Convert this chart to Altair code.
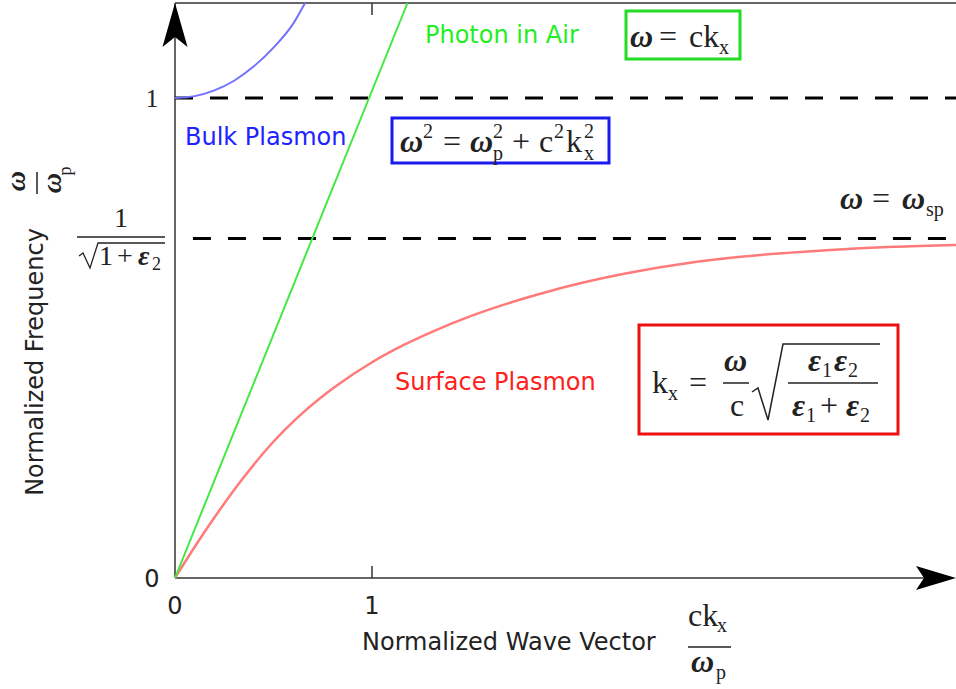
import altair as alt
import pandas as pd

# ---------------- data ----------------
photon_k = [0.0, 1.18]
photon_w = [0.0, 1.198]

bulk_k = [0.0, 0.1, 0.2, 0.3, 0.4, 0.5, 0.6, 0.66]
bulk_w = [1.0, 1.004, 1.016, 1.036, 1.066, 1.105, 1.155, 1.198]

surface_k = [0.0, 0.08, 0.16, 0.338, 0.482, 0.651, 0.821, 0.99, 1.159, 1.328, 1.497,
             1.666, 1.836, 2.005, 2.293, 2.631, 2.97, 3.308, 3.646, 3.964]
surface_w = [0.0, 0.052, 0.102, 0.204, 0.276, 0.345, 0.401, 0.447, 0.485, 0.517, 0.545,
             0.569, 0.590, 0.609, 0.635, 0.658, 0.673, 0.683, 0.690, 0.694]

bulk_level = 1.0
sp_level = 0.7071
x_max = 3.964
y_max = 1.198

# ---------------- layout ----------------
LEFT, TOP = 175, 3
W, H = 781, 575
XS = alt.Scale(domain=[0, x_max], nice=False, zero=False)
YS = alt.Scale(domain=[0, y_max], nice=False, zero=False)

SANS = "DejaVu Sans"
SERIF = "Liberation Serif"
MATH = 32
SUBS = 20


def curve(ks, ws, color, width):
    df = pd.DataFrame({"k": ks, "w": ws, "i": range(len(ks))})
    return alt.Chart(df).mark_line(color=color, strokeWidth=width, interpolate="monotone").encode(
        x=alt.X("k:Q", scale=XS, axis=None),
        y=alt.Y("w:Q", scale=YS, axis=None),
        order="i:Q",
    )


def hdash(level, k0):
    df = pd.DataFrame({"k": [k0], "k2": [x_max], "w": [level]})
    return alt.Chart(df).mark_rule(color="black", strokeWidth=3, strokeDash=[18, 17]).encode(
        x=alt.X("k:Q", scale=XS, axis=None), x2="k2:Q",
        y=alt.Y("w:Q", scale=YS, axis=None),
    )


def P(rows):
    """rows of page pixel positions -> plot pixel positions"""
    out = []
    for r in rows:
        r = dict(r)
        for key in ("x", "x2"):
            if key in r:
                r[key] = r[key] - LEFT
        for key in ("y", "y2"):
            if key in r:
                r[key] = r[key] - TOP
        out.append(r)
    return pd.DataFrame(out)


def texts(rows, font, size, color="#222222", style="normal", weight="normal",
          align="left", baseline="alphabetic", angle=0):
    df = P([{"x": x, "y": y, "t": t} for (t, x, y) in rows])
    kw = dict(font=font, fontSize=size, fontStyle=style, fontWeight=weight,
              align=align, baseline=baseline, color=color)
    if angle:
        kw["angle"] = angle
    return alt.Chart(df).mark_text(**kw).encode(
        x=alt.X("x:Q", scale=None, axis=None),
        y=alt.Y("y:Q", scale=None, axis=None),
        text="t:N",
    )


def rules(rows, color, width):
    df = P([{"x": a, "x2": b, "y": c, "y2": d} for (a, b, c, d) in rows])
    return alt.Chart(df).mark_rule(color=color, strokeWidth=width).encode(
        x=alt.X("x:Q", scale=None, axis=None), x2="x2:Q",
        y=alt.Y("y:Q", scale=None, axis=None), y2="y2:Q",
    )


def box(x0, x1, y0, y1, color):
    df = P([{"x": x0, "x2": x1, "y": y0, "y2": y1}])
    return alt.Chart(df).mark_rect(fill="white", fillOpacity=0, stroke=color, strokeWidth=3).encode(
        x=alt.X("x:Q", scale=None, axis=None), x2="x2:Q",
        y=alt.Y("y:Q", scale=None, axis=None), y2="y2:Q",
    )


def polyline(pts, color, width):
    df = P([{"x": x, "y": y, "i": i} for i, (x, y) in enumerate(pts)])
    return alt.Chart(df).mark_line(color=color, strokeWidth=width).encode(
        x=alt.X("x:Q", scale=None, axis=None),
        y=alt.Y("y:Q", scale=None, axis=None),
        order="i:Q",
    )


def arrow(x, y, shape, size):
    df = P([{"x": x, "y": y}])
    return alt.Chart(df).mark_point(shape=shape, size=size, filled=True, color="black",
                                    opacity=1, strokeWidth=0).encode(
        x=alt.X("x:Q", scale=None, axis=None),
        y=alt.Y("y:Q", scale=None, axis=None),
    )


layers = []

# frame
layers.append(rules([(175, 175, 3, 578), (175, 945, 578, 578), (175, 956, 3, 3)], "#666666", 2))
layers.append(rules([(372, 372, 3, 15), (372, 372, 566, 578)], "#333333", 1.5))

# dashed levels
layers.append(hdash(bulk_level, 0.0))
layers.append(hdash(sp_level, 0.091))

# curves
layers.append(curve(surface_k, surface_w, "#ff7a7a", 2.5))
layers.append(curve(photon_k, photon_w, "#44e844", 2))
layers.append(curve(bulk_k, bulk_w, "#7272ff", 2))

# arrow heads
layers.append(arrow(175, 3, "M0,0 L0.57,2 L0,1.55 L-0.57,2 Z", 44 * 44))
layers.append(arrow(956, 578, "M0,0 L-2,-0.6 L-1.6,0 L-2,0.6 Z", 40 * 40))

# coloured labels
layers.append(texts([("Photon in Air", 425, 43)], SANS, 24, color="#22ee22"))
layers.append(texts([("Bulk Plasmon", 185, 145)], SANS, 24, color="#2222ff"))
layers.append(texts([("Surface Plasmon", 395, 390)], SANS, 24, color="#ff2020"))

# axis titles
layers.append(texts([("Normalized Wave Vector", 362, 650)], SANS, 24))
layers.append(texts([("Normalized Frequency", 36, 362)], SANS, 24, align="center",
                    baseline="middle", angle=270))

# tick labels
layers.append(texts([("0", 175, 614), ("1", 372, 614), ("0", 152, 587)], SANS, 24, align="center"))
layers.append(texts([("1", 152, 107)], SERIF, 25, align="center"))

# boxes
layers.append(box(626, 740, 11, 59, "#22dd22"))
layers.append(box(392, 609, 118, 163, "#1a1aee"))
layers.append(box(639, 898, 325, 434, "#ee1111"))

# math: bold italic greek
layers.append(texts([("ω", 630, 47),
                     ("ω", 400, 152), ("ω", 470, 152),
                     ("ω", 840, 209), ("ω", 902, 209),
                     ("ω", 724, 371),
                     ("ε", 808, 371), ("ε", 834, 371), ("ε", 792, 416), ("ε", 846, 416),
                     ("ω", 691, 672)],
                    SERIF, MATH, style="italic", weight="bold"))
# math: upright main
layers.append(texts([("=", 659, 47), ("ck", 689, 47),
                     ("=", 443, 152), ("+", 512, 152), ("c", 539, 152), ("k", 566, 152),
                     ("=", 872, 209),
                     ("k", 652, 393), ("=", 689, 393), ("c", 730, 416), ("+", 820, 416),
                     ("ck", 688, 626)],
                    SERIF, MATH))
# math: sub / superscripts
layers.append(texts([("x", 719, 54),
                     ("2", 423, 138), ("2", 493, 138), ("2", 554, 138), ("2", 584, 138),
                     ("p", 493, 160), ("x", 584, 160),
                     ("sp", 926, 216),
                     ("x", 668, 400),
                     ("1", 822, 377), ("2", 848, 377), ("1", 806, 422), ("2", 860, 422),
                     ("x", 717, 632), ("p", 716, 679)],
                    SERIF, SUBS))

# y tick 1/sqrt(1+eps2)
layers.append(texts([("1", 121, 227)], SERIF, 28, align="center"))
layers.append(texts([("1", 99, 265), ("+", 117, 265)], SERIF, 28))
layers.append(texts([("ε", 138, 265)], SERIF, 28, style="italic", weight="bold"))
layers.append(texts([("2", 152, 270)], SERIF, 18))

# fraction bars and radicals
layers.append(rules([(77, 165, 237, 237), (723, 749, 383, 383), (788, 878, 383, 383),
                     (688, 731, 647, 647)], "#222222", 1.5))
layers.append(rules([(37, 37, 172, 194)], "#222222", 1.5))
layers.append(polyline([(752, 392), (758, 388), (768, 420), (783, 344), (880, 344)], "#222222", 1.5))
layers.append(polyline([(79, 256), (83, 253), (90, 268), (98, 243), (165, 243)], "#222222", 1.3))

# rotated y-title fraction
layers.append(texts([("ω", 17, 181), ("ω", 53, 183)], SERIF, 28, style="italic", weight="bold",
                    align="center", baseline="middle", angle=270))
layers.append(texts([("p", 66, 171)], SERIF, 18, align="center", baseline="middle", angle=270))

chart = alt.layer(*layers).resolve_scale(x="independent", y="independent").properties(
    width=W, height=H,
    padding={"left": LEFT, "top": TOP, "right": 0, "bottom": 689 - TOP - H},
    autosize=alt.AutoSizeParams(type="none"),
    background="white",
).configure_view(stroke=None)

chart.save("out.html", embed_options={"renderer": "svg", "actions": False})
